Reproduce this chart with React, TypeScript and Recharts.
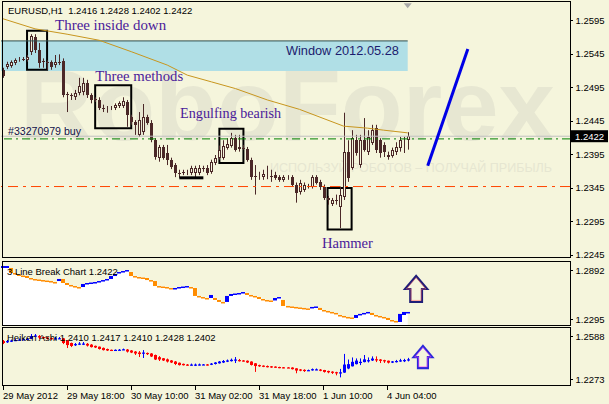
import {
  ComposedChart, Bar, Line, Area, XAxis, YAxis,
  ReferenceLine, ReferenceArea, ReferenceDot,
} from 'recharts';

const W = 609;
const H = 404;
const BG = '#f5f5dc';
const CANDLE = '#4b2828';
const UI_FONT = '"Liberation Sans", Arial, sans-serif';
const SERIF = '"Liberation Serif", "Times New Roman", serif';
const NOTE = '#4a1a9a';

// EURUSD H1, 29 May 02:00 .. 4 Jun 10:00 -> [open, high, low, close]
const candles = [
  [1.2521, 1.2524, 1.2509, 1.2512], [1.2525, 1.2533, 1.2522, 1.2530], [1.2527, 1.2535, 1.2524, 1.2533],
  [1.2531, 1.2538, 1.2528, 1.2535], [1.2535, 1.2540, 1.2533, 1.2537], [1.2537, 1.2540, 1.2534, 1.2535],
  [1.2535, 1.2543, 1.2533, 1.2540], [1.2547, 1.2574, 1.2543, 1.2571], [1.2570, 1.2574, 1.2546, 1.2550],
  [1.2550, 1.2561, 1.2524, 1.2531], [1.2534, 1.2538, 1.2524, 1.2533], [1.2533, 1.2535, 1.2521, 1.2531],
  [1.2533, 1.2535, 1.2521, 1.2525], [1.2528, 1.2543, 1.2524, 1.2533], [1.2533, 1.2544, 1.2528, 1.2532],
  [1.2534, 1.2538, 1.2480, 1.2483], [1.2485, 1.2488, 1.2458, 1.2483], [1.2483, 1.2486, 1.2476, 1.2482],
  [1.2480, 1.2491, 1.2476, 1.2486], [1.2486, 1.2509, 1.2483, 1.2497], [1.2488, 1.2509, 1.2483, 1.2501],
  [1.2501, 1.2506, 1.2479, 1.2483], [1.2483, 1.2486, 1.2471, 1.2476], [1.2478, 1.2480, 1.2473, 1.2476],
  [1.2476, 1.2480, 1.2461, 1.2464], [1.2464, 1.2469, 1.2458, 1.2463], [1.2461, 1.2467, 1.2457, 1.2463],
  [1.2464, 1.2467, 1.2461, 1.2465], [1.2464, 1.2471, 1.2461, 1.2469], [1.2467, 1.2474, 1.2464, 1.2471],
  [1.2467, 1.2480, 1.2464, 1.2474], [1.2473, 1.2476, 1.2436, 1.2454], [1.2451, 1.2454, 1.2439, 1.2443],
  [1.2443, 1.2446, 1.2424, 1.2439], [1.2424, 1.2458, 1.2421, 1.2446], [1.2428, 1.2470, 1.2424, 1.2451],
  [1.2451, 1.2454, 1.2439, 1.2442], [1.2442, 1.2446, 1.2413, 1.2416], [1.2416, 1.2419, 1.2387, 1.2391],
  [1.2390, 1.2409, 1.2384, 1.2406], [1.2406, 1.2409, 1.2387, 1.2390], [1.2397, 1.2409, 1.2379, 1.2387],
  [1.2387, 1.2390, 1.2373, 1.2376], [1.2379, 1.2382, 1.2361, 1.2367], [1.2367, 1.2372, 1.2360, 1.2366],
  [1.2369, 1.2372, 1.2364, 1.2367], [1.2367, 1.2372, 1.2364, 1.2369], [1.2367, 1.2378, 1.2364, 1.2375],
  [1.2367, 1.2378, 1.2360, 1.2375], [1.2367, 1.2379, 1.2364, 1.2375], [1.2375, 1.2378, 1.2369, 1.2373],
  [1.2375, 1.2379, 1.2364, 1.2367], [1.2369, 1.2387, 1.2366, 1.2384], [1.2382, 1.2394, 1.2379, 1.2390],
  [1.2390, 1.2408, 1.2387, 1.2402], [1.2390, 1.2416, 1.2387, 1.2408], [1.2405, 1.2419, 1.2402, 1.2410],
  [1.2408, 1.2427, 1.2405, 1.2419], [1.2419, 1.2424, 1.2399, 1.2402], [1.2406, 1.2424, 1.2399, 1.2403],
  [1.2405, 1.2409, 1.2402, 1.2404], [1.2403, 1.2406, 1.2384, 1.2387], [1.2387, 1.2390, 1.2357, 1.2361],
  [1.2363, 1.2379, 1.2335, 1.2361], [1.2361, 1.2369, 1.2357, 1.2363], [1.2361, 1.2372, 1.2357, 1.2366],
  [1.2364, 1.2378, 1.2358, 1.2365], [1.2363, 1.2372, 1.2354, 1.2361], [1.2364, 1.2369, 1.2357, 1.2360],
  [1.2361, 1.2364, 1.2354, 1.2357], [1.2357, 1.2364, 1.2354, 1.2361], [1.2360, 1.2364, 1.2357, 1.2361],
  [1.2361, 1.2364, 1.2347, 1.2350], [1.2350, 1.2353, 1.2323, 1.2338], [1.2339, 1.2357, 1.2335, 1.2353],
  [1.2342, 1.2353, 1.2339, 1.2350], [1.2347, 1.2351, 1.2344, 1.2348], [1.2347, 1.2364, 1.2344, 1.2361],
  [1.2361, 1.2364, 1.2350, 1.2353], [1.2354, 1.2357, 1.2342, 1.2347], [1.2347, 1.2350, 1.2327, 1.2330],
  [1.2330, 1.2333, 1.2320, 1.2327], [1.2321, 1.2330, 1.2318, 1.2327], [1.2327, 1.2335, 1.2320, 1.2326],
  [1.2317, 1.2347, 1.2285, 1.2335], [1.2332, 1.2457, 1.2327, 1.2399], [1.2399, 1.2416, 1.2354, 1.2360],
  [1.2375, 1.2431, 1.2372, 1.2419], [1.2416, 1.2424, 1.2393, 1.2397], [1.2379, 1.2424, 1.2375, 1.2416],
  [1.2416, 1.2449, 1.2399, 1.2402], [1.2399, 1.2431, 1.2394, 1.2421], [1.2412, 1.2439, 1.2409, 1.2431],
  [1.2434, 1.2439, 1.2397, 1.2402], [1.2416, 1.2419, 1.2390, 1.2397], [1.2409, 1.2413, 1.2391, 1.2399],
  [1.2394, 1.2399, 1.2387, 1.2391], [1.2393, 1.2405, 1.2390, 1.2402], [1.2399, 1.2413, 1.2394, 1.2406],
  [1.2405, 1.2421, 1.2399, 1.2416], [1.2413, 1.2421, 1.2397, 1.2415], [1.2416, 1.2428, 1.2402, 1.2422],
];

// moving average read at some bars: [bar, price]
const maPoints = [
  [0, 1.2597], [8, 1.2582], [16, 1.2574], [24, 1.2565], [32, 1.2548], [41, 1.2528], [46, 1.2513],
  [52, 1.2503], [58, 1.2493], [66, 1.2476], [74, 1.2462], [85, 1.2437], [91, 1.2434], [95, 1.2431], [101, 1.2427],
];

// hand drawn trend line [bar, price]
const trendPoints = [[106, 1.2378], [116, 1.2552]];

const priceTicks = [1.2245, 1.2295, 1.2345, 1.2395, 1.2422, 1.2445, 1.2495, 1.2545, 1.2595];
const lastClose = 1.2422;
const orderPrice = 1.2418;
const levelPrice = 1.2347;

// pattern boxes [fromBar, toBar, low, high]
const patternBoxes = [
  [6, 11, 1.2521, 1.2579], [23, 32, 1.2434, 1.2498], [54, 60, 1.2382, 1.2433], [81, 87, 1.2283, 1.2345],
];
const patternNotes = [
  { bar: 13, price: 1.2581, text: 'Three inside down', width: 111 },
  { bar: 23, price: 1.2504, text: 'Three methods', width: 88 },
  { bar: 44.2, price: 1.2449, text: 'Engulfing bearish', width: 101 },
  { bar: 79.6, price: 1.2256, text: 'Hammer', width: 51 },
];
const windowZone = { from: -0.5, to: 101, low: 1.2519, high: 1.2564, label: 'Window 2012.05.28' };

// 3 Line Break bricks: [low, high, up]
const lineBreak = [
  [1.2917, 1.2941, 1], [1.2917, 1.2941, 1], [1.2856, 1.2917, 0], [1.2838, 1.2856, 0], [1.2825, 1.2838, 0],
  [1.2813, 1.2825, 0], [1.2795, 1.2819, 0], [1.2783, 1.2795, 0], [1.2777, 1.2783, 0], [1.2770, 1.2777, 0],
  [1.2764, 1.2770, 0], [1.2758, 1.2764, 0], [1.2746, 1.2758, 0], [1.2734, 1.2746, 0], [1.2758, 1.2783, 1],
  [1.2734, 1.2783, 0], [1.2710, 1.2734, 0], [1.2697, 1.2710, 0], [1.2685, 1.2697, 0], [1.2679, 1.2685, 0],
  [1.2685, 1.2722, 1], [1.2722, 1.2734, 1], [1.2734, 1.2740, 1], [1.2740, 1.2746, 1], [1.2752, 1.2758, 1],
  [1.2764, 1.2770, 1], [1.2770, 1.2783, 1], [1.2783, 1.2819, 1], [1.2819, 1.2844, 1], [1.2856, 1.2868, 1],
  [1.2868, 1.2880, 1], [1.2886, 1.2892, 1], [1.2819, 1.2868, 0], [1.2807, 1.2819, 0], [1.2801, 1.2807, 0],
  [1.2795, 1.2801, 0], [1.2770, 1.2795, 0], [1.2758, 1.2770, 0], [1.2697, 1.2758, 0], [1.2691, 1.2697, 0],
  [1.2685, 1.2691, 0], [1.2679, 1.2685, 0], [1.2661, 1.2673, 0], [1.2667, 1.2673, 1], [1.2673, 1.2685, 1],
  [1.2685, 1.2691, 1], [1.2691, 1.2697, 1], [1.2673, 1.2685, 0], [1.2576, 1.2673, 0], [1.2563, 1.2576, 0],
  [1.2557, 1.2563, 0], [1.2545, 1.2551, 0], [1.2551, 1.2588, 1], [1.2527, 1.2551, 0], [1.2503, 1.2527, 0],
  [1.2497, 1.2503, 0], [1.2503, 1.2576, 1], [1.2576, 1.2600, 1], [1.2600, 1.2606, 1], [1.2606, 1.2612, 1],
  [1.2612, 1.2624, 1], [1.2588, 1.2612, 0], [1.2576, 1.2588, 0], [1.2563, 1.2576, 0], [1.2539, 1.2563, 0],
  [1.2533, 1.2539, 0], [1.2521, 1.2527, 0], [1.2515, 1.2521, 0], [1.2521, 1.2551, 1], [1.2551, 1.2563, 1],
  [1.2454, 1.2527, 0], [1.2448, 1.2454, 0], [1.2442, 1.2448, 0], [1.2436, 1.2442, 0], [1.2430, 1.2436, 0],
  [1.2424, 1.2430, 0], [1.2418, 1.2424, 0], [1.2436, 1.2442, 1], [1.2442, 1.2448, 1], [1.2405, 1.2430, 0],
  [1.2399, 1.2405, 0], [1.2387, 1.2393, 0], [1.2369, 1.2381, 0], [1.2357, 1.2369, 0], [1.2338, 1.2344, 0],
  [1.2326, 1.2332, 0], [1.2314, 1.2320, 0], [1.2308, 1.2314, 0], [1.2308, 1.2344, 1], [1.2344, 1.2357, 1],
  [1.2357, 1.2369, 1], [1.2369, 1.2381, 1], [1.2344, 1.2369, 0], [1.2332, 1.2344, 0], [1.2320, 1.2332, 0],
  [1.2308, 1.2320, 0], [1.2283, 1.2308, 0], [1.2271, 1.2283, 0], [1.2265, 1.2271, 0], [1.2259, 1.2357, 1],
  [1.2344, 1.2381, 1], [1.2375, 1.2381, 1],
];
const lineBreakTicks = [1.2295, 1.2892];

// Heiken Ashi: [open, close, high, low]
const heikenAshi = [
  [1.2551, 1.2537, 1.2559, 1.2529], [1.2544, 1.2551, 1.2559, 1.2537], [1.2548, 1.2555, 1.2562, 1.2544],
  [1.2555, 1.2559, 1.2566, 1.2551], [1.2559, 1.2562, 1.2570, 1.2555], [1.2562, 1.2564, 1.2570, 1.2559],
  [1.2564, 1.2568, 1.2575, 1.2560], [1.2568, 1.2588, 1.2603, 1.2566], [1.2584, 1.2592, 1.2603, 1.2581],
  [1.2588, 1.2577, 1.2595, 1.2566], [1.2581, 1.2573, 1.2584, 1.2566], [1.2577, 1.2570, 1.2581, 1.2562],
  [1.2573, 1.2566, 1.2577, 1.2562], [1.2570, 1.2571, 1.2581, 1.2564], [1.2570, 1.2572, 1.2581, 1.2566],
  [1.2571, 1.2537, 1.2573, 1.2529], [1.2555, 1.2522, 1.2559, 1.2500], [1.2537, 1.2515, 1.2540, 1.2507],
  [1.2526, 1.2529, 1.2537, 1.2515], [1.2527, 1.2533, 1.2544, 1.2522], [1.2529, 1.2533, 1.2544, 1.2522],
  [1.2531, 1.2518, 1.2537, 1.2511], [1.2525, 1.2507, 1.2529, 1.2504], [1.2516, 1.2504, 1.2518, 1.2500],
  [1.2510, 1.2493, 1.2511, 1.2489], [1.2501, 1.2485, 1.2504, 1.2482], [1.2493, 1.2482, 1.2496, 1.2478],
  [1.2487, 1.2482, 1.2489, 1.2478], [1.2484, 1.2487, 1.2490, 1.2481], [1.2485, 1.2488, 1.2493, 1.2483],
  [1.2487, 1.2491, 1.2496, 1.2485], [1.2489, 1.2474, 1.2493, 1.2467], [1.2482, 1.2467, 1.2485, 1.2463],
  [1.2474, 1.2460, 1.2478, 1.2449], [1.2467, 1.2456, 1.2478, 1.2434], [1.2461, 1.2467, 1.2485, 1.2427],
  [1.2464, 1.2456, 1.2467, 1.2449], [1.2460, 1.2438, 1.2463, 1.2434], [1.2449, 1.2416, 1.2452, 1.2412],
  [1.2433, 1.2416, 1.2441, 1.2405], [1.2425, 1.2409, 1.2427, 1.2405], [1.2417, 1.2401, 1.2423, 1.2394],
  [1.2409, 1.2394, 1.2412, 1.2390], [1.2401, 1.2383, 1.2405, 1.2375], [1.2392, 1.2375, 1.2394, 1.2372],
  [1.2384, 1.2374, 1.2386, 1.2372], [1.2379, 1.2374, 1.2383, 1.2371], [1.2376, 1.2379, 1.2386, 1.2371],
  [1.2378, 1.2379, 1.2386, 1.2368], [1.2379, 1.2380, 1.2386, 1.2372], [1.2379, 1.2380, 1.2383, 1.2375],
  [1.2380, 1.2376, 1.2383, 1.2372], [1.2378, 1.2386, 1.2390, 1.2375], [1.2383, 1.2394, 1.2397, 1.2379],
  [1.2388, 1.2401, 1.2405, 1.2386], [1.2394, 1.2405, 1.2412, 1.2390], [1.2400, 1.2409, 1.2416, 1.2397],
  [1.2404, 1.2414, 1.2423, 1.2401], [1.2409, 1.2416, 1.2434, 1.2390], [1.2412, 1.2405, 1.2420, 1.2401],
  [1.2409, 1.2404, 1.2412, 1.2401], [1.2407, 1.2394, 1.2409, 1.2390], [1.2401, 1.2376, 1.2403, 1.2372],
  [1.2388, 1.2368, 1.2390, 1.2325], [1.2375, 1.2366, 1.2378, 1.2362], [1.2371, 1.2365, 1.2373, 1.2360],
  [1.2368, 1.2363, 1.2372, 1.2358], [1.2366, 1.2361, 1.2368, 1.2355], [1.2364, 1.2358, 1.2366, 1.2355],
  [1.2361, 1.2356, 1.2363, 1.2352], [1.2359, 1.2356, 1.2361, 1.2352], [1.2358, 1.2355, 1.2360, 1.2353],
  [1.2357, 1.2345, 1.2359, 1.2343], [1.2351, 1.2335, 1.2352, 1.2315], [1.2343, 1.2337, 1.2346, 1.2330],
  [1.2340, 1.2333, 1.2344, 1.2325], [1.2336, 1.2338, 1.2342, 1.2333], [1.2337, 1.2345, 1.2350, 1.2334],
  [1.2341, 1.2344, 1.2350, 1.2338], [1.2342, 1.2335, 1.2346, 1.2330], [1.2339, 1.2325, 1.2340, 1.2320],
  [1.2332, 1.2322, 1.2334, 1.2315], [1.2327, 1.2318, 1.2330, 1.2310], [1.2323, 1.2316, 1.2326, 1.2300],
  [1.2319, 1.2322, 1.2347, 1.2285], [1.2320, 1.2379, 1.2457, 1.2318], [1.2350, 1.2382, 1.2416, 1.2345],
  [1.2366, 1.2399, 1.2431, 1.2365], [1.2382, 1.2408, 1.2424, 1.2380], [1.2395, 1.2399, 1.2424, 1.2375],
  [1.2397, 1.2417, 1.2449, 1.2395], [1.2407, 1.2411, 1.2431, 1.2394], [1.2409, 1.2423, 1.2439, 1.2405],
  [1.2418, 1.2414, 1.2439, 1.2397], [1.2416, 1.2406, 1.2419, 1.2390], [1.2411, 1.2403, 1.2414, 1.2391],
  [1.2407, 1.2393, 1.2408, 1.2387], [1.2400, 1.2402, 1.2405, 1.2390], [1.2401, 1.2405, 1.2413, 1.2394],
  [1.2403, 1.2410, 1.2421, 1.2399], [1.2407, 1.2412, 1.2421, 1.2397], [1.2410, 1.2417, 1.2428, 1.2402],
];
const haTicks = [1.2273, 1.2588];

const timeTicks = [0, 16, 32, 48, 64, 80, 96];
const timeLabels = ['29 May 2012', '29 May 18:00', '30 May 10:00', '31 May 02:00', '31 May 18:00', '1 Jun 10:00', '4 Jun 04:00'];

const X_DOMAIN: [number, number] = [-0.5, 141.5];
const MAIN_DOMAIN: [number, number] = [1.2242, 1.2622];
const LB_DOMAIN: [number, number] = [1.2222, 1.2990];
const HA_DOMAIN: [number, number] = [1.2229, 1.2647];

const mainData: any[] = candles.map(([o, h, l, c], i) => ({ i, o, h, l, c }));
maPoints.forEach(([i, v]) => { mainData[i].ma = v; });
trendPoints.forEach(([i, v]) => mainData.push({ i, trend: v }));

const lbData = lineBreak.map(([lo, hi, up], i) => ({ i, lo, hi, up }));
const haData = heikenAshi.map(([o, c, h, l], i) => ({ i, o, c, h, l }));

const last = candles[candles.length - 1];
const lastHa = heikenAshi[heikenAshi.length - 1];

function Candle(props: any) {
  const { x, y, width, height, payload } = props;
  if (!payload || payload.o == null || !isFinite(y)) return null;
  const { o, h, l, c } = payload;
  const cx = Math.floor(x + width / 2);
  const range = h - l || 1;
  const toY = (v: number) => y + ((h - v) / range) * height;
  const top = Math.round(toY(Math.max(o, c)));
  const bot = Math.round(toY(Math.min(o, c)));
  return (
    <g>
      <line x1={cx + 0.5} x2={cx + 0.5} y1={y} y2={y + height} stroke={CANDLE} />
      {c > o ? (
        <rect x={cx - 0.5} y={top + 0.5} width={2} height={Math.max(bot - top - 1, 0)} fill={BG} stroke={CANDLE} />
      ) : (
        <rect x={cx - 1} y={top} width={3} height={Math.max(bot - top, 1)} fill={CANDLE} />
      )}
    </g>
  );
}

function HaCandle(props: any) {
  const { x, y, width, height, payload } = props;
  if (!payload || !isFinite(y)) return null;
  const { o, c, h, l } = payload;
  const color = c >= o ? '#0000ff' : '#ff0000';
  const cx = Math.floor(x + width / 2);
  const range = h - l || 1;
  const toY = (v: number) => y + ((h - v) / range) * height;
  const top = toY(Math.max(o, c));
  const bot = toY(Math.min(o, c));
  return (
    <g>
      <line x1={cx + 0.5} x2={cx + 0.5} y1={y} y2={y + height} stroke={color} />
      <rect x={cx - 1} y={top} width={3} height={Math.max(bot - top, 1.2)} fill={color} />
    </g>
  );
}

function Brick(props: any) {
  const { x, y, height, payload } = props;
  if (!payload || !isFinite(y)) return null;
  return <rect x={Math.round(x)} y={y} width={4} height={Math.max(height, 1.5)} fill={payload.up ? '#0000ff' : '#ff8c00'} />;
}

function priceTick(props: any) {
  const { x, y, payload } = props;
  const v = payload.value as number;
  if (v === lastClose) {
    return (
      <g>
        <rect x={x + 1} y={y - 6} width={37} height={12} fill="#000" />
        <text x={x + 5} y={y + 3.5} fill="#fff" fontSize={9.5} fontFamily={UI_FONT}>{v.toFixed(4)}</text>
      </g>
    );
  }
  const ly = Math.round(y) + 0.5;
  return (
    <g>
      <line x1={x} x2={x + 3} y1={ly} y2={ly} stroke="#000" />
      <text x={x + 5.5} y={y + 3.5} fill="#000" fontSize={9.5} fontFamily={UI_FONT}>{v.toFixed(4)}</text>
    </g>
  );
}

function timeTick(props: any) {
  const { x, y, payload } = props;
  const k = timeTicks.indexOf(payload.value);
  const px = Math.floor(x) + 0.5;
  return (
    <g>
      <line x1={px} x2={px} y1={y + 1} y2={y + 5} stroke="#000" />
      <text x={Math.floor(x)} y={y + 14} fill="#000" fontSize={9.5} fontFamily={UI_FONT}>{timeLabels[k]}</text>
    </g>
  );
}

const noteShape = (text: string, width: number, font: string, size: number, color: string, anchor = 'start') =>
  (p: any) => (
    <text x={p.cx} y={p.cy} fill={color} fontSize={size} fontFamily={font} textAnchor={anchor}
      textLength={width} lengthAdjust="spacingAndGlyphs">{text}</text>
  );

const arrowShape = (size: number, stroke: string, inner: string) => (p: any) => {
  const { cx, cy } = p;
  const s = size;
  const d = `M${cx},${cy - s} L${cx + s * 0.85},${cy} L${cx + s * 0.45},${cy} L${cx + s * 0.45},${cy + s}`
    + ` L${cx - s * 0.45},${cy + s} L${cx - s * 0.45},${cy} L${cx - s * 0.85},${cy} Z`;
  return (
    <g>
      <path d={d} fill={BG} stroke={stroke} strokeWidth={2.2} strokeLinejoin="miter" />
      <path d={d} fill="none" stroke={inner} strokeWidth={0.6} transform={`translate(${cx * 0.12},${cy * 0.12}) scale(0.88)`} />
    </g>
  );
};

const frame = (top: number, height: number) => ({
  position: 'absolute' as const, left: 2, top, width: 569, height,
  border: '1px solid #000', boxSizing: 'border-box' as const, pointerEvents: 'none' as const,
});

const layer = { position: 'absolute' as const, left: 0, top: 0 };

export default function App() {
  return (
    <div style={{ position: 'absolute', left: 0, top: 0, width: W, height: H, background: BG, overflow: 'hidden' }}>
      {/* broker watermark */}
      <svg width={W} height={H} style={layer}>
        <text x={20} y={140} fontSize={100} fontWeight="bold" fontFamily={UI_FONT} fill="#e7e7d2"
          textLength={535} lengthAdjust="spacingAndGlyphs">RoboForex</text>
        <text x={270} y={172} fontSize={13} fontFamily={UI_FONT} fill="#e6e6d1"
          textLength={282} lengthAdjust="spacingAndGlyphs">ИСПОЛЬЗУЙ РОБОТОВ – ПОЛУЧАЙ ПРИБЫЛЬ</text>
      </svg>

      {/* main price pane */}
      <div style={layer}>
        <ComposedChart width={W} height={H} data={mainData} margin={{ top: 2, right: 0, bottom: H - 257, left: 1 }}>
          <XAxis type="number" dataKey="i" domain={X_DOMAIN} hide allowDataOverflow />
          <YAxis orientation="right" width={39} domain={MAIN_DOMAIN} ticks={priceTicks} interval={0}
            allowDataOverflow axisLine={false} tickLine={false} tickSize={0} tickMargin={0} tick={priceTick} />
          <ReferenceArea x1={windowZone.from} x2={windowZone.to} y1={windowZone.low} y2={windowZone.high}
            fill="#b0dfe6" fillOpacity={1} stroke="none" ifOverflow="visible" />
          <ReferenceLine segment={[{ x: windowZone.from, y: windowZone.high }, { x: windowZone.to, y: windowZone.high }]}
            stroke="#2f4f4f" />
          <ReferenceLine y={lastClose} stroke="#c0c0c0" />
          <ReferenceLine y={orderPrice} stroke="#008000" strokeDasharray="8 4 2 4" />
          <ReferenceLine y={levelPrice} stroke="#ff4500" strokeDasharray="10 5 3 5" />
          <Line dataKey="ma" stroke="#c8961e" strokeWidth={1} dot={false} connectNulls isAnimationActive={false} />
          <Bar dataKey={(d: any) => (d.o != null ? [d.l, d.h] : null)} barSize={3} shape={Candle} isAnimationActive={false} />
          <Line dataKey="trend" stroke="#0000e6" strokeWidth={3} dot={false} connectNulls isAnimationActive={false} />
          {patternBoxes.map(([a, b, lo, hi], k) => (
            <ReferenceArea key={k} x1={a} x2={b} y1={lo} y2={hi} fill="none" stroke="#000" strokeWidth={2} />
          ))}
          <ReferenceLine segment={[{ x: 44, y: 1.2360 }, { x: 50, y: 1.2360 }]} stroke="#000" strokeWidth={3} />
          {patternNotes.map((n, k) => (
            <ReferenceDot key={k} x={n.bar} y={n.price} r={0} shape={noteShape(n.text, n.width, SERIF, 15, NOTE)} />
          ))}
          <ReferenceDot x={98.8} y={1.2543} r={0}
            shape={noteShape(windowZone.label, 113, UI_FONT, 13, '#1c1c6e', 'end')} />
          <ReferenceDot x={1.25} y={1.2424} r={0} shape={noteShape('#33270979 buy', 73, UI_FONT, 10, '#10104a')} />
          <ReferenceDot x={101} y={1.2617} r={0}
            shape={(p: any) => <polygon points={`${p.cx - 4},${p.cy - 2} ${p.cx + 4},${p.cy - 2} ${p.cx},${p.cy + 3}`} fill="#a8a8a8" />} />
        </ComposedChart>
      </div>

      {/* 3 Line Break pane */}
      <div style={layer}>
        <ComposedChart width={W} height={H} data={lbData} margin={{ top: 262, right: 0, bottom: H - 325, left: 1 }}>
          <XAxis type="number" dataKey="i" domain={X_DOMAIN} hide allowDataOverflow />
          <YAxis orientation="right" width={39} domain={LB_DOMAIN} ticks={lineBreakTicks} interval={0}
            allowDataOverflow axisLine={false} tickLine={false} tickSize={0} tickMargin={0} tick={priceTick} />
          <Area dataKey="hi" type="step" baseValue={LB_DOMAIN[0]} fill="#ffffff" fillOpacity={1} stroke="none"
            isAnimationActive={false} />
          <Bar dataKey={(d: any) => [d.lo, d.hi]} barSize={4} shape={Brick} isAnimationActive={false} />
          <ReferenceDot x={103.1} y={1.2661} r={0} shape={arrowShape(13, '#1e1e78', '#ff6060')} />
        </ComposedChart>
      </div>

      {/* Heiken Ashi pane */}
      <div style={layer}>
        <ComposedChart width={W} height={H} data={haData} margin={{ top: 328, right: 0, bottom: 0, left: 1 }}>
          <XAxis type="number" dataKey="i" domain={X_DOMAIN} ticks={timeTicks} interval={0} height={19}
            allowDataOverflow axisLine={false} tickLine={false} tickSize={0} tickMargin={0} tick={timeTick} />
          <YAxis orientation="right" width={39} domain={HA_DOMAIN} ticks={haTicks} interval={0}
            allowDataOverflow axisLine={false} tickLine={false} tickSize={0} tickMargin={0} tick={priceTick} />
          <Bar dataKey={(d: any) => [d.l, d.h]} barSize={3} shape={HaCandle} isAnimationActive={false} />
          <ReferenceDot x={104.8} y={1.2434} r={0} shape={arrowShape(11, '#2828d8', '#ff40ff')} />
        </ComposedChart>
      </div>

      {/* pane captions */}
      <svg width={W} height={H} style={{ ...layer, pointerEvents: 'none' }}>
        <text x={8} y={14} fontSize={9.5} fontFamily={UI_FONT} fill="#000" style={{ whiteSpace: 'pre' }}>
          {`EURUSD,H1  ${last[0].toFixed(4)} ${last[1].toFixed(4)} ${last[2].toFixed(4)} ${last[3].toFixed(4)}`}
        </text>
        <text x={7} y={275} fontSize={9.5} fontFamily={UI_FONT} fill="#000">
          {`3 Line Break Chart ${lastClose.toFixed(4)}`}
        </text>
        <text x={7} y={341} fontSize={9.5} fontFamily={UI_FONT} fill="#000">
          {`Heiken Ashi ${lastHa[0].toFixed(4)} ${lastHa[1].toFixed(4)} ${lastHa[0].toFixed(4)} ${lastHa[2].toFixed(4)} ${lastHa[3].toFixed(4)}`}
        </text>
      </svg>

      <div style={frame(1, 257)} />
      <div style={frame(261, 65)} />
      <div style={frame(327, 59)} />
    </div>
  );
}
